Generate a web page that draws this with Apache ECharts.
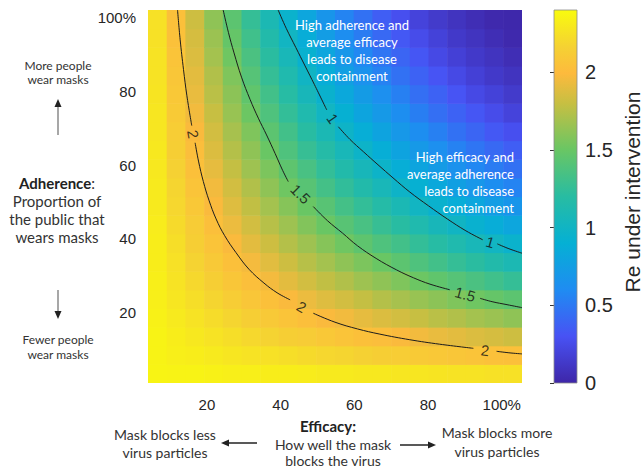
<!DOCTYPE html>
<html>
<head>
<meta charset="utf-8">
<title>Re under intervention</title>
<script src="https://cdn.jsdelivr.net/npm/echarts/dist/echarts.min.js"></script>
<style>
html, body { margin: 0; padding: 0; background: #fff; }
#maskChart { width: 644px; height: 470px; }
</style>
</head>
<body>
<div id="maskChart"></div>
<script>
// cell centres, % of the plot side (efficacy across, adherence up)
var efficacyMid = [2.5, 7.5, 12.5, 17.5, 22.5, 27.5, 32.5, 37.5, 42.5, 47.5, 52.5, 57.5, 62.5, 67.5, 72.5, 77.5, 82.5, 87.5, 92.5, 97.5];
var adherenceMid = [2.5, 7.5, 12.5, 17.5, 22.5, 27.5, 32.5, 37.5, 42.5, 47.5, 52.5, 57.5, 62.5, 67.5, 72.5, 77.5, 82.5, 87.5, 92.5, 97.5];

// Re under intervention, one row per adherence value (bottom row first)
var reGrid = [
	[2.36, 2.35, 2.35, 2.34, 2.33, 2.33, 2.32, 2.32, 2.31, 2.30, 2.30, 2.29, 2.29, 2.28, 2.28, 2.27, 2.26, 2.26, 2.25, 2.25],
	[2.35, 2.33, 2.32, 2.30, 2.28, 2.26, 2.25, 2.23, 2.21, 2.19, 2.18, 2.16, 2.14, 2.13, 2.11, 2.09, 2.08, 2.06, 2.04, 2.03],
	[2.35, 2.32, 2.29, 2.26, 2.23, 2.20, 2.17, 2.14, 2.12, 2.09, 2.06, 2.03, 2.01, 1.98, 1.95, 1.92, 1.90, 1.87, 1.85, 1.82],
	[2.34, 2.30, 2.26, 2.22, 2.18, 2.14, 2.10, 2.06, 2.02, 1.98, 1.95, 1.91, 1.87, 1.84, 1.80, 1.76, 1.73, 1.69, 1.66, 1.62],
	[2.33, 2.28, 2.23, 2.18, 2.13, 2.08, 2.03, 1.98, 1.93, 1.88, 1.84, 1.79, 1.74, 1.70, 1.65, 1.61, 1.57, 1.52, 1.48, 1.44],
	[2.33, 2.26, 2.20, 2.14, 2.08, 2.02, 1.96, 1.90, 1.84, 1.78, 1.73, 1.67, 1.62, 1.57, 1.51, 1.46, 1.41, 1.36, 1.31, 1.26],
	[2.32, 2.25, 2.17, 2.10, 2.03, 1.96, 1.89, 1.82, 1.75, 1.69, 1.62, 1.56, 1.50, 1.44, 1.38, 1.32, 1.26, 1.21, 1.15, 1.10],
	[2.32, 2.23, 2.14, 2.06, 1.98, 1.90, 1.82, 1.74, 1.67, 1.59, 1.52, 1.45, 1.38, 1.32, 1.25, 1.19, 1.13, 1.07, 1.01, 0.95],
	[2.31, 2.21, 2.12, 2.02, 1.93, 1.84, 1.75, 1.67, 1.58, 1.50, 1.42, 1.35, 1.27, 1.20, 1.13, 1.06, 1.00, 0.93, 0.87, 0.81],
	[2.30, 2.19, 2.09, 1.98, 1.88, 1.78, 1.69, 1.59, 1.50, 1.42, 1.33, 1.25, 1.17, 1.09, 1.01, 0.94, 0.87, 0.81, 0.74, 0.68],
	[2.30, 2.18, 2.06, 1.95, 1.84, 1.73, 1.62, 1.52, 1.42, 1.33, 1.24, 1.15, 1.07, 0.98, 0.91, 0.83, 0.76, 0.69, 0.62, 0.56],
	[2.29, 2.16, 2.03, 1.91, 1.79, 1.67, 1.56, 1.45, 1.35, 1.25, 1.15, 1.06, 0.97, 0.88, 0.80, 0.73, 0.65, 0.58, 0.52, 0.46],
	[2.29, 2.14, 2.01, 1.87, 1.74, 1.62, 1.50, 1.38, 1.27, 1.17, 1.07, 0.97, 0.88, 0.79, 0.71, 0.63, 0.55, 0.48, 0.42, 0.36],
	[2.28, 2.13, 1.98, 1.84, 1.70, 1.57, 1.44, 1.32, 1.20, 1.09, 0.98, 0.88, 0.79, 0.70, 0.62, 0.54, 0.46, 0.40, 0.33, 0.28],
	[2.28, 2.11, 1.95, 1.80, 1.65, 1.51, 1.38, 1.25, 1.13, 1.01, 0.91, 0.80, 0.71, 0.62, 0.53, 0.45, 0.38, 0.32, 0.26, 0.20],
	[2.27, 2.09, 1.92, 1.76, 1.61, 1.46, 1.32, 1.19, 1.06, 0.94, 0.83, 0.73, 0.63, 0.54, 0.45, 0.38, 0.31, 0.24, 0.19, 0.14],
	[2.26, 2.08, 1.90, 1.73, 1.57, 1.41, 1.26, 1.13, 1.00, 0.87, 0.76, 0.65, 0.55, 0.46, 0.38, 0.31, 0.24, 0.18, 0.13, 0.09],
	[2.26, 2.06, 1.87, 1.69, 1.52, 1.36, 1.21, 1.07, 0.93, 0.81, 0.69, 0.58, 0.48, 0.40, 0.32, 0.24, 0.18, 0.13, 0.09, 0.05],
	[2.25, 2.04, 1.85, 1.66, 1.48, 1.31, 1.15, 1.01, 0.87, 0.74, 0.62, 0.52, 0.42, 0.33, 0.26, 0.19, 0.13, 0.09, 0.05, 0.02],
	[2.25, 2.03, 1.82, 1.62, 1.44, 1.26, 1.10, 0.95, 0.81, 0.68, 0.56, 0.46, 0.36, 0.28, 0.20, 0.14, 0.09, 0.05, 0.02, 0.01]
];

// contour lines, split where the labels sit
var contour2 = [
	[[7.9, 100], [8.6, 92], [9.5, 84], [10.4, 77], [11.7, 69]],
	[[12.6, 64.4], [13.5, 59.5], [14.8, 54], [16.3, 49], [18.2, 44], [20.5, 39.5], [23.5, 35], [27, 30.5], [31, 26.8], [34.5, 24.2], [38, 22.3]],
	[[44.2, 18.7], [50, 16.3], [56, 14.5], [62, 13.1], [70, 11.6], [78, 10.4], [87, 9.3]],
	[[93.2, 8.5], [96.5, 8.1], [100, 7.8]]
];
var contour15 = [
	[[20.1, 100], [21.5, 94], [23, 88.5], [25, 82], [27.3, 76], [29.5, 71], [31.7, 66.5], [34, 61.5], [36, 57], [37.5, 54]],
	[[44.2, 47.3], [48, 43.5], [52, 40.2], [56, 36.8], [61, 33.4], [66.5, 30.3], [71, 28.2], [75.4, 26.5], [80.7, 25]],
	[[88.8, 22.7], [92, 21.8], [96, 21], [100, 20.2]]
];
var contour1 = [
	[[34.8, 100], [37, 95], [39.5, 90], [42, 85], [44.5, 80], [47.8, 73.2]],
	[[50.9, 68.7], [54, 65.3], [57.6, 62], [61.5, 58.5], [65.5, 55], [70, 51.2], [75, 47.5], [80, 44], [85, 40.8], [89.5, 38.4]],
	[[93.4, 37.3], [96.5, 36], [100, 34.8]]
];

// contour labels: efficacy, adherence, text
var contourLabels = [
	[12.1, 66.7, '2'], [40.8, 50.7, '1.5'], [49.4, 70.9, '1'],
	[41.1, 20.4, '2'], [84.8, 23.8, '1.5'], [91.5, 37.8, '1'], [90.1, 8.8, '2']
];
var labelTilt = [-80, -45, -55, -30, -15, -16, -7];

// tick labels
var xTicks = [20, 40, 60, 80, 100];
var yTicks = [20, 40, 60, 80, 100];
var colorTicks = [0, 0.5, 1, 1.5, 2];
var colorRange = [0, 2.4];

// parula-like colour map
var parulaPos = [0, 0.125, 0.25, 0.375, 0.5, 0.625, 0.75, 0.83, 0.9, 1];
var parula = ['#3e26a8', '#4852f4', '#1f8cf2', '#05b0d4', '#28bca2', '#69c664', '#c7bf42', '#fdba3d', '#f5d133', '#f9fb0e'];
var tickFont = 'Liberation Sans, Arial, sans-serif';
var noteFont = 'Lato, sans-serif';

function pctLabel(v) {
	return v == 100 ? '100%' : String(v);
}

//heatmap cell drawn through the axes
function renderCell(params, api) {
	var half = (efficacyMid[1] - efficacyMid[0]) / 2;
	var x = api.value(0);
	var y = api.value(1);
	var p0 = api.coord([x - half, y + half]);
	var p1 = api.coord([x + half, y - half]);
	return {
		type: 'rect',
		shape: { x: p0[0], y: p0[1], width: p1[0] - p0[0] + 0.6, height: p1[1] - p0[1] + 0.6 },
		style: { fill: api.visual('color') }
	};
}

//colour bar
function renderBar(params, api) {
	var p0 = api.coord([0, colorRange[1]]);
	var p1 = api.coord([1, colorRange[0]]);
	var stops = [];
	for(var i = 0; i < parula.length; i++) {
		stops.push({ offset: parulaPos[i], color: parula[i] });
	}
	return {
		type: 'rect',
		shape: { x: p0[0], y: p0[1], width: p1[0] - p0[0], height: p1[1] - p0[1] },
		style: { fill: new echarts.graphic.LinearGradient(0, 1, 0, 0, stops), stroke: '#8c8c8c', lineWidth: 0.8 }
	};
}

function note(x, y, text, size, opts) {
	opts = opts || {};
	return {
		type: 'text', x: x, y: y, z: 100, rotation: opts.rotation || 0,
		style: {
			text: text, fill: opts.color || '#333', fontSize: size, fontFamily: opts.font || noteFont,
			fontWeight: opts.weight || 'normal', lineHeight: opts.lineHeight || size + 3,
			align: opts.align || 'center', verticalAlign: 'middle', rich: opts.rich
		}
	};
}

function shaft(x1, y1, x2, y2, color) {
	return { type: 'line', z: 100, shape: { x1: x1, y1: y1, x2: x2, y2: y2 }, style: { stroke: color, lineWidth: 1.5 } };
}

function head(points) {
	return { type: 'polygon', z: 100, shape: { points: points }, style: { fill: '#222' } };
}

var cells = [];
for(var j = 0; j < adherenceMid.length; j++) {
	for(var i = 0; i < efficacyMid.length; i++) {
		cells.push([efficacyMid[i], adherenceMid[j], reGrid[j][i]]);
	}
}

// visualMap colour list spread evenly, so resample the stop positions
var mapColors = [];
for(var k = 0; k <= 40; k++) {
	var t = k / 40;
	var s = 0;
	while(s < parulaPos.length - 2 && t > parulaPos[s + 1]) s++;
	var f = (t - parulaPos[s]) / (parulaPos[s + 1] - parulaPos[s]);
	var c0 = echarts.color.parse(parula[s]);
	var c1 = echarts.color.parse(parula[s + 1]);
	mapColors.push('rgb(' + Math.round(c0[0] + (c1[0] - c0[0]) * f) + ',' + Math.round(c0[1] + (c1[1] - c0[1]) * f) + ',' + Math.round(c0[2] + (c1[2] - c0[2]) * f) + ')');
}

var series = [{
	type: 'custom',
	xAxisIndex: 0,
	yAxisIndex: 0,
	renderItem: renderCell,
	clip: true,
	silent: true,
	data: cells
}, {
	type: 'custom',
	xAxisIndex: 2,
	yAxisIndex: 2,
	renderItem: renderBar,
	silent: true,
	data: [[0, colorRange[1]]]
}];

[contour2, contour15, contour1].forEach(function(level) {
	level.forEach(function(seg) {
		series.push({
			type: 'line',
			xAxisIndex: 0,
			yAxisIndex: 0,
			data: seg,
			smooth: 0.4,
			symbol: 'none',
			silent: true,
			z: 3,
			lineStyle: { color: '#1c1c1c', width: 1 }
		});
	});
});

series.push({
	type: 'scatter',
	xAxisIndex: 0,
	yAxisIndex: 0,
	symbolSize: 1,
	silent: true,
	z: 4,
	itemStyle: { color: 'rgba(0,0,0,0)' },
	data: contourLabels.map(function(d, k) {
		return {
			value: [d[0], d[1]],
			label: {
				show: true, position: 'inside', formatter: d[2], rotate: labelTilt[k],
				color: '#111', fontSize: 15, fontFamily: tickFont
			}
		};
	})
});

var myChart = echarts.init(document.getElementById('maskChart'), null, { renderer: 'svg' });
var option = {
	animation: false,
	backgroundColor: '#fff',
	grid: [
		{ left: 148, top: 10, width: 374, height: 373 },
		{ left: 554, top: 10, width: 23, height: 373 }
	],
	visualMap: {
		show: false,
		type: 'continuous',
		min: colorRange[0],
		max: colorRange[1],
		dimension: 2,
		seriesIndex: 0,
		inRange: { color: mapColors }
	},
	xAxis: [
		{ gridIndex: 0, type: 'value', min: 0, max: 100, show: false },
		{
			gridIndex: 0, type: 'value', min: 4, max: 105.5, position: 'bottom',
			axisLine: { show: false }, axisTick: { show: false }, splitLine: { show: false },
			axisLabel: { customValues: xTicks, formatter: pctLabel, margin: 14, fontSize: 15, color: '#262626', fontFamily: tickFont }
		},
		{ gridIndex: 1, type: 'value', min: 0, max: 1, show: false }
	],
	yAxis: [
		{ gridIndex: 0, type: 'value', min: 0, max: 100, show: false },
		{
			gridIndex: 0, type: 'value', min: 1, max: 102, position: 'left',
			axisLine: { show: false }, axisTick: { show: false }, splitLine: { show: false },
			axisLabel: { customValues: yTicks, formatter: pctLabel, margin: 12, fontSize: 15, color: '#262626', fontFamily: tickFont }
		},
		{
			gridIndex: 1, type: 'value', min: colorRange[0], max: colorRange[1], position: 'right',
			axisLine: { show: false }, splitLine: { show: false },
			axisTick: { show: true, inside: true, length: 4, customValues: colorTicks, lineStyle: { color: '#333' } },
			axisLabel: { customValues: colorTicks, margin: 8, fontSize: 20, color: '#262626', fontFamily: tickFont }
		}
	],
	series: series,
	graphic: [
		// white notes inside the map
		note(352, 50, 'High adherence and\naverage efficacy\nleads to disease\ncontainment', 13, { color: '#fff', lineHeight: 17 }),
		note(514, 182, 'High efficacy and\naverage adherence\nleads to disease\ncontainment', 13, { color: '#fff', lineHeight: 17, align: 'right' }),
		// colour bar title
		note(632, 192, 'Re under intervention', 21, { font: tickFont, color: '#262626', rotation: Math.PI / 2 }),
		// adherence side
		note(58, 72, 'More people\nwear masks', 12, { lineHeight: 14 }),
		shaft(58, 135, 58, 105, '#8a8a8a'),
		head([[58, 99], [54.5, 107], [61.5, 107]]),
		note(57, 210, '{b|Adherence}:\nProportion of\nthe public that\nwears masks', 15, {
			lineHeight: 18,
			rich: { b: { fontWeight: 'bold', fontSize: 15, fontFamily: noteFont, fill: '#222', lineHeight: 18 } }
		}),
		shaft(58, 290, 58, 313, '#8a8a8a'),
		head([[58, 319], [54.5, 311], [61.5, 311]]),
		note(58, 347, 'Fewer people\nwear masks', 12, { lineHeight: 15 }),
		// efficacy side
		note(165, 443, 'Mask blocks less\nvirus particles', 14, { lineHeight: 18 }),
		shaft(257, 443, 228, 443, '#222'),
		head([[221, 443], [229, 439.5], [229, 446.5]]),
		note(328, 426, 'Efficacy:', 15, { weight: 'bold', color: '#222', lineHeight: 15 }),
		note(333, 452, 'How well the mask\nblocks the virus', 14, { lineHeight: 16 }),
		shaft(400, 445, 429, 445, '#222'),
		head([[436, 445], [428, 441.5], [428, 448.5]]),
		note(497, 442, 'Mask blocks more\nvirus particles', 14, { lineHeight: 19 })
	]
};
myChart.setOption(option);
</script>
</body>
</html>
